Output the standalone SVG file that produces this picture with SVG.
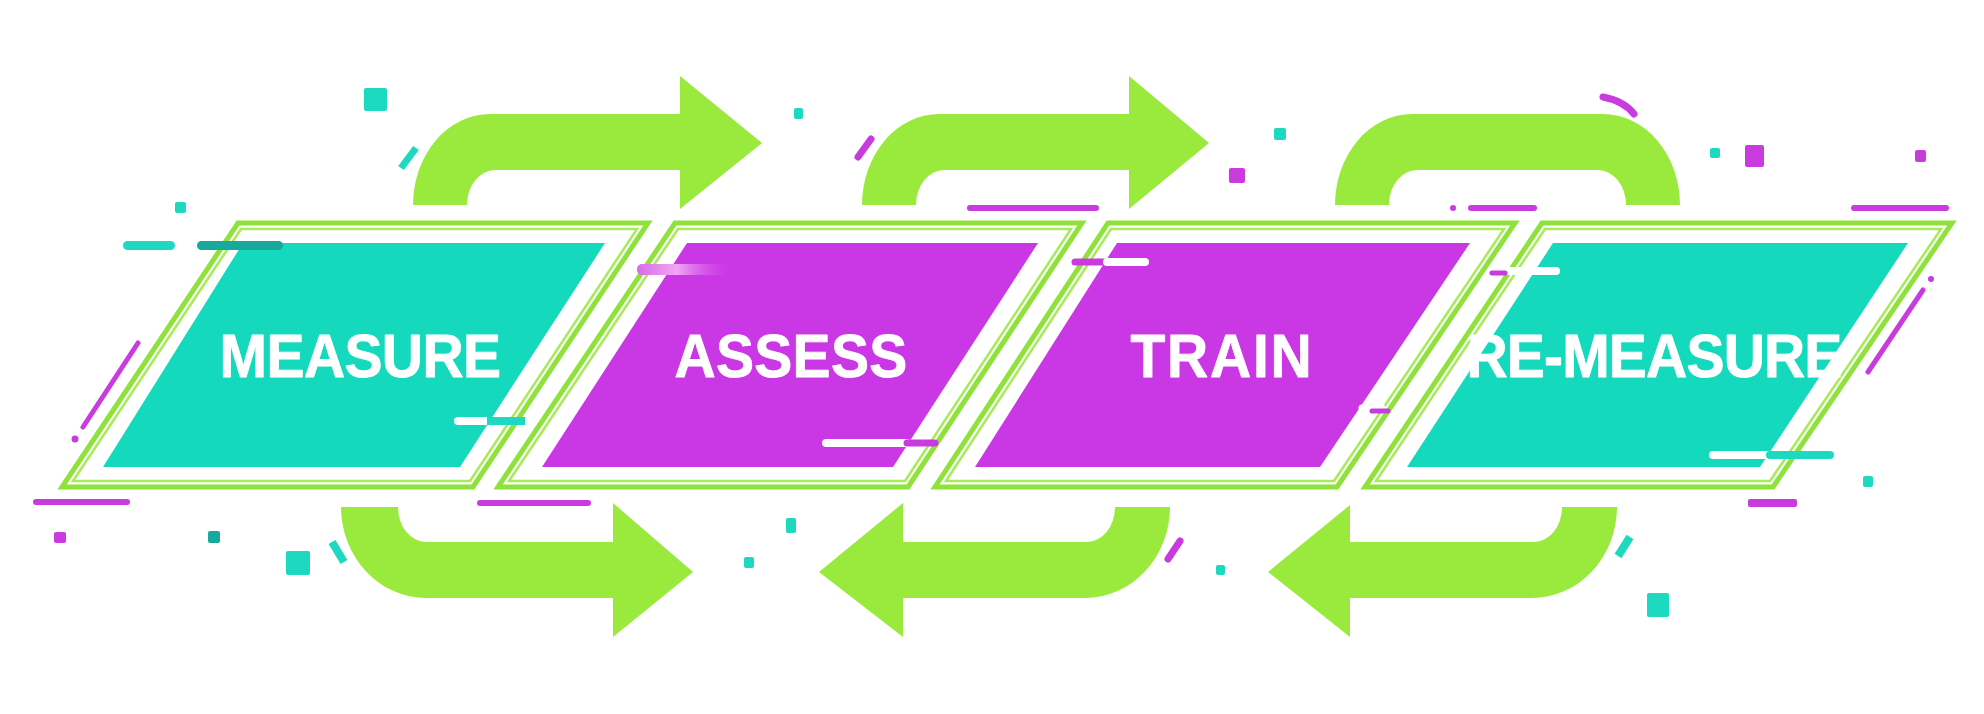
<svg xmlns="http://www.w3.org/2000/svg" width="1984" height="714" viewBox="0 0 1984 714">
  <defs>
    <style>
      .arrow { fill: #9AEA3E; }
      .frame-outer { fill: none; stroke: #8EE23A; stroke-width: 5; stroke-linejoin: miter; }
      .frame-inner { fill: none; stroke: #A6EC58; stroke-width: 2.5; stroke-linejoin: miter; }
      .fill-teal { fill: #15D9BC; }
      .fill-mag { fill: #CA37E4; }
      .label { font-family: "Liberation Sans", Arial, sans-serif; font-weight: 700; font-size: 57px; fill: #FFFFFF; stroke: #FFFFFF; stroke-width: 0.8; stroke-linejoin: round; text-anchor: middle; }
      .t { fill: #1DD9BF; }
      .td { fill: #17A99C; }
      .m { fill: #C93BDF; }
      .ml { stroke: #C93BDF; stroke-linecap: round; fill: none; }
      .tl { stroke: #1DD9BF; fill: none; }
      .wl { stroke: #FFFFFF; stroke-linecap: round; fill: none; }
    </style>
    <linearGradient id="pinkblur" x1="0" y1="0" x2="1" y2="0">
      <stop offset="0" stop-color="#D86BE8"/>
      <stop offset="0.4" stop-color="#F2A6F4"/>
      <stop offset="1" stop-color="#CA37E4" stop-opacity="0"/>
    </linearGradient>
  </defs>
  <rect x="0" y="0" width="1984" height="714" fill="#FFFFFF"/>

  <g id="node-measure">
    <polygon class="frame-outer" points="238,223 648,223 473,487 62,487"/>
    <polygon class="frame-inner" points="241,229 637,229 470,481 73,481"/>
    <polygon class="fill-teal" points="243,243 605,243 460,467 103,467"/>
    <text class="label" transform="translate(360,377) scale(1,1.08)" x="0" y="0" letter-spacing="-0.6">MEASURE</text>
  </g>

  <g id="node-assess">
    <polygon class="frame-outer" points="675,223 1082,223 908,487 498,487"/>
    <polygon class="frame-inner" points="678,229 1071,229 905,481 509,481"/>
    <polygon class="fill-mag" points="687,243 1038,243 893,467 542,467"/>
    <text class="label" transform="translate(791,377) scale(1,1.08)" x="0" y="0" letter-spacing="0.3">ASSESS</text>
  </g>

  <g id="node-train">
    <polygon class="frame-outer" points="1108,223 1515,223 1337,487 935,487"/>
    <polygon class="frame-inner" points="1111,229 1504,229 1334,481 946,481"/>
    <polygon class="fill-mag" points="1117,243 1470,243 1320,467 975,467"/>
    <text class="label" transform="translate(1222,377) scale(1,1.08)" x="0" y="0" letter-spacing="1.8">TRAIN</text>
  </g>

  <g id="node-remeasure">
    <polygon class="frame-outer" points="1542,223 1952,223 1773,487 1365,487"/>
    <polygon class="frame-inner" points="1545,229 1941,229 1770,481 1376,481"/>
    <polygon class="fill-teal" points="1553,243 1908,243 1760,467 1407,467"/>
    <text class="label" transform="translate(1654,377) scale(1,1.08)" x="0" y="0" letter-spacing="-0.8">RE-MEASURE</text>
  </g>

  <g id="connectors">
    <path class="arrow" d="M413,205 A77,91 0 0 1 490,114 H680 V76 L762,143 L680,209 V170 H495 A28,35 0 0 0 467,205 Z"/>
    <path class="arrow" d="M862,205 A77,91 0 0 1 939,114 H1129 V76 L1209,143 L1129,209 V170 H944 A28,35 0 0 0 916,205 Z"/>
    <path class="arrow" d="M1335,205 A77,91 0 0 1 1412,114 H1603 A77,91 0 0 1 1680,205 H1626 A28,35 0 0 0 1598,170 H1417 A28,35 0 0 0 1389,205 Z"/>
    <path class="arrow" d="M341,507 H398 A28,35 0 0 0 426,542 H613 V503 L693,572 L613,637 V598 H426 A85,91 0 0 1 341,507 Z"/>
    <path class="arrow" d="M1170,507 H1115 A28,35 0 0 1 1087,542 H903 V503 L819,572 L903,637 V598 H1085 A85,91 0 0 0 1170,507 Z"/>
    <path class="arrow" d="M1617,507 H1562 A28,35 0 0 1 1534,542 H1350 V505 L1268,572 L1350,637 V598 H1532 A85,91 0 0 0 1617,507 Z"/>
  </g>

  <g id="decorations">
    <rect class="t" x="364" y="88" width="23" height="23" rx="2"/>
    <line class="tl" x1="416" y1="148" x2="401" y2="168" stroke-width="7"/>
    <rect class="t" x="175" y="202" width="11" height="11" rx="2"/>
    <rect class="t" x="123" y="241" width="52" height="9" rx="4.5"/>
    <rect class="td" x="197" y="241" width="86" height="9" rx="4.5"/>
    <rect class="t" x="794" y="108" width="9" height="11" rx="2"/>
    <rect class="t" x="1274" y="128" width="12" height="12" rx="2"/>
    <rect class="t" x="1710" y="148" width="10" height="10" rx="2"/>
    <rect class="t" x="1863" y="476" width="10" height="11" rx="2"/>
    <rect class="td" x="208" y="531" width="12" height="12" rx="2"/>
    <rect class="t" x="286" y="551" width="24" height="24" rx="2"/>
    <line class="tl" x1="332" y1="542" x2="344" y2="562" stroke-width="8"/>
    <rect class="t" x="786" y="518" width="10" height="15" rx="2"/>
    <rect class="t" x="744" y="557" width="10" height="11" rx="2"/>
    <rect class="t" x="1216" y="565" width="9" height="10" rx="2"/>
    <line class="tl" x1="1630" y1="537" x2="1618" y2="556" stroke-width="8"/>
    <rect class="t" x="1647" y="593" width="22" height="24" rx="2"/>

    <line class="ml" x1="138" y1="343" x2="83" y2="427" stroke-width="5"/>
    <circle class="m" cx="75" cy="439" r="3.5"/>
    <line class="ml" x1="36" y1="502" x2="127" y2="502" stroke-width="6"/>
    <line class="ml" x1="480" y1="503" x2="588" y2="503" stroke-width="6"/>
    <line class="ml" x1="871" y1="139" x2="858" y2="157" stroke-width="7" stroke-linecap="butt"/>
    <rect class="m" x="1229" y="168" width="16" height="15" rx="2"/>
    <line class="ml" x1="970" y1="208" x2="1096" y2="208" stroke-width="6"/>
    <circle class="m" cx="1453" cy="208" r="3"/>
    <line class="ml" x1="1471" y1="208" x2="1534" y2="208" stroke-width="6"/>
    <line class="ml" x1="1854" y1="208" x2="1946" y2="208" stroke-width="6"/>
    <line class="ml" x1="1923" y1="290" x2="1868" y2="372" stroke-width="5"/>
    <circle class="m" cx="1931" cy="279" r="3"/>
    <rect class="m" x="1748" y="499" width="49" height="8" rx="2"/>
    <rect class="m" x="54" y="532" width="12" height="11" rx="2"/>
    <line class="ml" x1="1180" y1="541" x2="1168" y2="559" stroke-width="7" stroke-linecap="butt"/>
    <path class="ml" d="M1603,97 Q1624,101 1634,114" stroke-width="7" stroke-linecap="butt"/>
    <rect class="m" x="1745" y="145" width="19" height="22" rx="2"/>
    <rect class="m" x="1915" y="150" width="11" height="12" rx="2"/>

    <rect x="637" y="264" width="100" height="11" rx="5" fill="url(#pinkblur)"/>
    <line class="wl" x1="458" y1="421" x2="487" y2="421" stroke-width="8"/>
    <line class="tl" x1="487" y1="421" x2="525" y2="421" stroke-width="8" stroke="#1CB8C8"/>
    <line class="wl" x1="826" y1="443" x2="907" y2="443" stroke-width="8"/>
    <line class="ml" x1="907" y1="443" x2="935" y2="443" stroke-width="7"/>
    <line class="ml" x1="1075" y1="262" x2="1107" y2="262" stroke-width="7"/>
    <line class="wl" x1="1107" y1="262" x2="1145" y2="262" stroke-width="8"/>
    <line class="wl" x1="1362" y1="408" x2="1382" y2="408" stroke-width="7"/>
    <line class="ml" x1="1372" y1="411" x2="1388" y2="411" stroke-width="5"/>
    <line class="wl" x1="1508" y1="271" x2="1556" y2="271" stroke-width="8"/>
    <line class="ml" x1="1492" y1="273" x2="1505" y2="273" stroke-width="5"/>
    <line class="wl" x1="1713" y1="455" x2="1770" y2="455" stroke-width="8"/>
    <line class="tl" x1="1770" y1="455" x2="1830" y2="455" stroke-width="8" stroke="#1CC8C8" stroke-linecap="round"/>
  </g>
</svg>
